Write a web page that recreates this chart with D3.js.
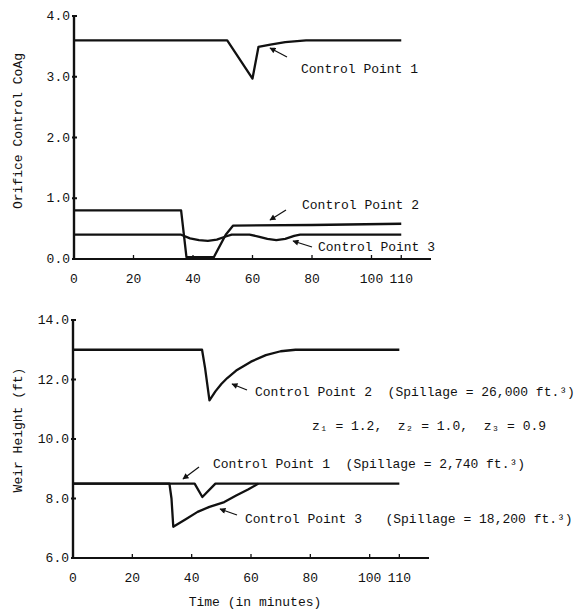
<!DOCTYPE html>
<html><head><meta charset="utf-8">
<script src="https://cdn.jsdelivr.net/npm/d3@7"></script>
<style>body{margin:0;background:#fff}text{font-family:"Liberation Mono","DejaVu Sans Mono",monospace;fill:#111}</style>
</head><body><svg id="c" width="580" height="612"></svg>
<script>
// ---- data ----
const xTicks = [0, 20, 40, 60, 80, 100, 110];
const topYTicks = [0, 1, 2, 3, 4];
const botYTicks = [6, 8, 10, 12, 14];

const topCP1Time = [0, 51.5, 60, 62, 66, 71, 78, 110];
const topCP1 = [3.6, 3.6, 2.97, 3.49, 3.53, 3.57, 3.6, 3.6];
const topCP2Time = [0, 36, 37.8, 47, 51, 53.5, 80, 110];
const topCP2 = [0.8, 0.8, 0.03, 0.03, 0.4, 0.55, 0.56, 0.58];
const topCP3Time = [0, 36, 39, 42, 45, 48, 51, 53, 59, 62, 65, 68, 71, 74, 76, 110];
const topCP3 = [0.4, 0.4, 0.34, 0.31, 0.3, 0.32, 0.37, 0.4, 0.4, 0.37, 0.33, 0.31, 0.33, 0.38, 0.4, 0.4];

const botCP2Time = [0, 43.5, 44.5, 46, 48, 50, 52, 55, 60, 65, 70, 75, 110];
const botCP2 = [13, 13, 12.4, 11.3, 11.6, 11.85, 12.05, 12.3, 12.6, 12.82, 12.95, 13, 13];
const botCP1Time = [0, 41, 43.6, 48, 110];
const botCP1 = [8.5, 8.5, 8.05, 8.5, 8.5];
const botCP3Time = [0, 32.5, 33.2, 33.8, 38, 42, 46, 51, 55, 59, 62.5];
const botCP3 = [8.5, 8.5, 8.0, 7.05, 7.3, 7.55, 7.72, 7.88, 8.1, 8.3, 8.5];

const svg = d3.select("#c");
const defs = svg.append("defs");
defs.append("marker").attr("id","ah").attr("viewBox","0 0 10 10").attr("refX",9).attr("refY",5)
  .attr("markerWidth",7).attr("markerHeight",6).attr("orient","auto").attr("markerUnits","userSpaceOnUse")
  .append("path").attr("d","M0,0 L10,5 L0,10 Z").attr("fill","#111");

function panel(x, y, yTicks, yFmt) {
  const g = svg.append("g");
  g.append("line").attr("x1",x(0)).attr("x2",x(120)).attr("y1",y(yTicks[0])).attr("y2",y(yTicks[0]))
    .attr("stroke","#111").attr("stroke-width",2.2);
  g.append("line").attr("x1",x(0)).attr("x2",x(0)).attr("y1",y(yTicks[0])+1).attr("y2",y(yTicks[yTicks.length-1]))
    .attr("stroke","#111").attr("stroke-width",2.4);
  xTicks.forEach(t=>{
    g.append("line").attr("x1",x(t)).attr("x2",x(t)).attr("y1",y(yTicks[0])).attr("y2",y(yTicks[0])-4)
      .attr("stroke","#111").attr("stroke-width",1.3);
    g.append("text").attr("x",x(t)).attr("y",y(yTicks[0])+24).attr("text-anchor","middle")
      .attr("font-size",13).text(t);
  });
  yTicks.forEach(t=>{
    g.append("line").attr("x1",x(0)-2).attr("x2",x(0)+3).attr("y1",y(t)).attr("y2",y(t))
      .attr("stroke","#111").attr("stroke-width",2);
    g.append("text").attr("x",x(0)-4).attr("y",y(t)+4).attr("text-anchor","end")
      .attr("font-size",13).text(yFmt(t));
  });
  return g;
}
function series(g, x, y, xs, ys) {
  const line = d3.line().x(d=>x(d[0])).y(d=>y(d[1])).curve(d3.curveLinear);
  g.append("path").attr("d", line(xs.map((v,i)=>[v, ys[i]])))
    .attr("fill","none").attr("stroke","#111").attr("stroke-width",2.3).attr("stroke-linejoin","round");
}
function arrow(x1,y1,x2,y2){
  svg.append("line").attr("x1",x1).attr("y1",y1).attr("x2",x2).attr("y2",y2)
    .attr("stroke","#111").attr("stroke-width",1.2).attr("marker-end","url(#ah)");
}
function label(x,y,t){ svg.append("text").attr("x",x).attr("y",y).attr("font-size",13).attr("xml:space","preserve").style("white-space","pre").text(t); }

// top panel
const xT = d3.scaleLinear().domain([0,120]).range([74,431]);
const yT = d3.scaleLinear().domain([0,4]).range([259,16]);
const gT = panel(xT, yT, topYTicks, d3.format(".1f"));
series(gT, xT, yT, topCP1Time, topCP1);
series(gT, xT, yT, topCP2Time, topCP2);
series(gT, xT, yT, topCP3Time, topCP3);
svg.append("text").attr("transform","translate(22,131) rotate(-90)").attr("text-anchor","middle")
  .attr("font-size",13).text("Orifice Control CoAg");
label(301,73,"Control Point 1"); arrow(287,57,270,48);
label(302,209,"Control Point 2"); arrow(286,210,270,220);
label(318,251,"Control Point 3"); arrow(312,247,293,241);

// bottom panel
const xB = d3.scaleLinear().domain([0,120]).range([73,429]);
const yB = d3.scaleLinear().domain([6,14]).range([558,320]);
const gB = panel(xB, yB, botYTicks, d3.format(".1f"));
series(gB, xB, yB, botCP2Time, botCP2);
series(gB, xB, yB, botCP1Time, botCP1);
series(gB, xB, yB, botCP3Time, botCP3);
svg.append("text").attr("transform","translate(22,430) rotate(-90)").attr("text-anchor","middle")
  .attr("font-size",13).text("Weir Height (ft)");
label(255,396,"Control Point 2  (Spillage = 26,000 ft.³)"); arrow(247,390,232,384);
label(312,430,"z₁ = 1.2,  z₂ = 1.0,  z₃ = 0.9");
label(213,468,"Control Point 1  (Spillage = 2,740 ft.³)"); arrow(199,467,183,479);
label(245,523,"Control Point 3   (Spillage = 18,200 ft.³)"); arrow(237,515,220,509);
svg.append("text").attr("x",255).attr("y",606).attr("text-anchor","middle").attr("font-size",13).text("Time (in minutes)");
</script></body></html>
